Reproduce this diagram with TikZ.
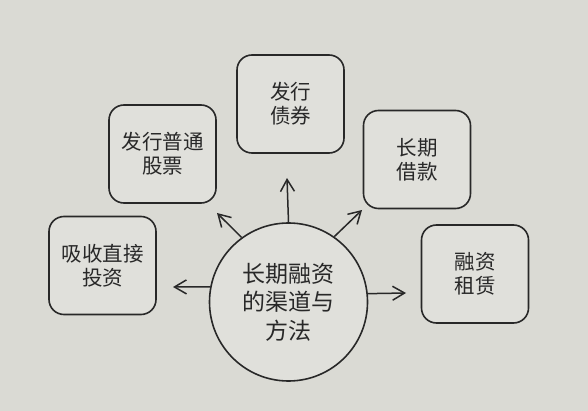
\documentclass[tikz,border=0pt]{standalone}
\usepackage{fontspec}
\newfontfamily\cjk{Noto Sans CJK SC}
\usetikzlibrary{arrows.meta}
\definecolor{paper}{RGB}{218,218,212}
\definecolor{boxfill}{RGB}{224,224,219}
\definecolor{ink}{RGB}{40,40,40}
\tikzset{
  itembox/.style={draw=ink, line width=1.6pt, rounded corners=15pt, fill=boxfill,
    minimum width=107pt, minimum height=98pt, align=center, text=ink,
    font=\cjk\fontsize{20.5}{24}\selectfont, inner sep=0pt},
  hub/.style={draw=ink, line width=1.6pt, circle, minimum size=158pt, inner sep=0pt,
    align=center, text=ink, font=\cjk\fontsize{23}{28.5}\selectfont, fill=boxfill},
  outarrow/.style={draw=ink, line width=1.5pt, -{Straight Barb[length=12pt,width=14pt,line width=1.5pt]}}
}
\begin{document}
\begin{tikzpicture}[x=1pt,y=-1pt]
\fill[paper] (0,0) rectangle (588,411);
\useasboundingbox (0,0) rectangle (588,411);

\node[itembox] (gupiao) at (162.5,154) {发行普通\\股票};
\node[itembox] (zhaiquan) at (290.5,104) {发行\\债券};
\node[itembox] (jiekuan) at (417,159.5) {长期\\借款};
\node[itembox] (touzi) at (102.5,265.5) {吸收直接\\投资};
\node[itembox] (zulin) at (475,274) {融资\\租赁};

\node[hub] (c) at (288.5,302) {长期融资\\的渠道与\\方法};

\coordinate (tup) at (287,178);
\coordinate (tul) at (217,213);
\coordinate (tur) at (362,210);
\coordinate (tl) at (173,287);
\coordinate (tr) at (406,293);

\draw[outarrow] (c.90) -- (tup);
\draw[outarrow] (c.126) -- (tul);
\draw[outarrow] (c.55) -- (tur);
\draw[outarrow] (c.169) -- (tl);
\draw[outarrow] (c.6.5) -- (tr);
\end{tikzpicture}
\end{document}
